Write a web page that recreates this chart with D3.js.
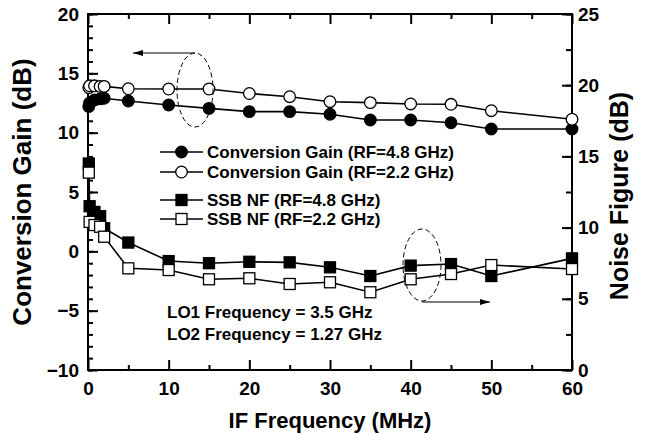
<!DOCTYPE html>
<html>
<head>
<meta charset="utf-8">
<script src="https://cdn.jsdelivr.net/npm/d3@7"></script>
<style>
  body { margin: 0; background: #fff; }
  svg { display: block; font-family: "Liberation Sans", Arial, sans-serif; font-weight: bold; }
</style>
</head>
<body>
<div id="chart"></div>
<script>
// data
var ifFreq = [0.1, 0.2, 0.8, 1.5, 2, 5, 10, 15, 20, 25, 30, 35, 40, 45, 50, 60];

var gain48 = [12.2, 12.5, 12.75, 12.85, 12.9, 12.67, 12.33, 12.05, 11.77, 11.77, 11.55, 11.07, 11.07, 10.84, 10.31, 10.31];
var gain22 = [13.8, 13.95, 13.95, 13.9, 13.9, 13.7, 13.68, 13.68, 13.3, 13.03, 12.61, 12.53, 12.42, 12.39, 11.85, 11.13];
var nf48 = [14.5, 11.5, 11.1, 10.8, 9.95, 8.95, 7.65, 7.5, 7.6, 7.56, 7.21, 6.6, 7.33, 7.44, 6.6, 7.84];
var nf22 = [13.86, 10.4, 10.18, 10.06, 9.36, 7.14, 7.02, 6.37, 6.44, 6.04, 6.16, 5.46, 6.37, 6.74, 7.37, 7.09];

var xTicks = [0, 10, 20, 30, 40, 50, 60];
var gainTicks = [-10, -5, 0, 5, 10, 15, 20];
var nfTicks = [0, 5, 10, 15, 20, 25];

var legendLabels = ["Conversion Gain (RF=4.8 GHz)", "Conversion Gain (RF=2.2 GHz)",
    "SSB NF (RF=4.8 GHz)", "SSB NF (RF=2.2 GHz)"];
var noteLines = ["LO1 Frequency = 3.5 GHz", "LO2 Frequency = 1.27 GHz"];

// layout
var width = 648,
    height = 434,
    margin = { left: 88, right: 76, top: 14, bottom: 64 },
    plotW = width - margin.left - margin.right,
    plotH = height - margin.top - margin.bottom;

var svg = d3.select("#chart").append("svg")
    .attr("width", width)
    .attr("height", height);

var g = svg.append("g")
    .attr("transform", "translate(" + margin.left + "," + margin.top + ")");

var x = d3.scaleLinear().domain([0, 60]).range([0, plotW]);
var yL = d3.scaleLinear().domain([-10, 20]).range([plotH, 0]);
var yR = d3.scaleLinear().domain([0, 25]).range([plotH, 0]);

// frame
g.append("rect")
    .attr("width", plotW)
    .attr("height", plotH)
    .attr("fill", "none")
    .attr("stroke", "#000")
    .attr("stroke-width", 2);

// axes, ticks inward
function styleAxis(sel) {
    sel.select(".domain").remove();
    sel.selectAll(".tick line").attr("stroke", "#000").attr("stroke-width", 2);
    sel.selectAll("text").attr("fill", "#000").style("font-size", "19px").style("font-weight", "bold")
        .style("font-family", "'Liberation Sans', Arial, sans-serif");
}

// bottom
g.append("g").attr("transform", "translate(0," + plotH + ")")
    .call(d3.axisBottom(x).tickValues(d3.range(5, 60, 10)).tickSize(-5).tickFormat(""))
    .call(styleAxis);
g.append("g").attr("transform", "translate(0," + plotH + ")")
    .call(d3.axisBottom(x).tickValues(xTicks).tickSize(-10).tickPadding(12).tickFormat(d3.format("d")))
    .call(styleAxis);
// top
g.append("g")
    .call(d3.axisTop(x).tickValues(d3.range(5, 60, 10)).tickSize(-5).tickFormat(""))
    .call(styleAxis);
g.append("g")
    .call(d3.axisTop(x).tickValues(xTicks).tickSize(-10).tickFormat(""))
    .call(styleAxis);
// left
g.append("g")
    .call(d3.axisLeft(yL).tickValues(d3.range(-10, 21, 1)).tickSize(-5).tickFormat(""))
    .call(styleAxis);
g.append("g")
    .call(d3.axisLeft(yL).tickValues(gainTicks).tickSize(-10).tickPadding(9).tickFormat(d3.format("d")))
    .call(styleAxis);
// right
g.append("g").attr("transform", "translate(" + plotW + ",0)")
    .call(d3.axisRight(yR).tickValues(d3.range(0, 25.1, 2.5)).tickSize(-6).tickFormat(""))
    .call(styleAxis);
g.append("g").attr("transform", "translate(" + plotW + ",0)")
    .call(d3.axisRight(yR).tickValues(nfTicks).tickSize(-10).tickPadding(6).tickFormat(d3.format("d")))
    .call(styleAxis);

// axis titles
svg.append("text")
    .attr("x", margin.left + plotW / 2)
    .attr("y", 428)
    .attr("text-anchor", "middle")
    .style("font-size", "22px")
    .text("IF Frequency (MHz)");

svg.append("text")
    .attr("transform", "translate(31," + (margin.top + plotH / 2) + ") rotate(-90)")
    .attr("text-anchor", "middle")
    .style("font-size", "26px")
    .text("Conversion Gain (dB)");

svg.append("text")
    .attr("transform", "translate(628," + (margin.top + plotH / 2 + 4) + ") rotate(-90)")
    .attr("text-anchor", "middle")
    .style("font-size", "25px")
    .text("Noise Figure (dB)");

// series
var series = [
    { vals: gain48, y: yL, shape: "circle", fill: "#000" },
    { vals: gain22, y: yL, shape: "circle", fill: "#fff" },
    { vals: nf48, y: yR, shape: "square", fill: "#000" },
    { vals: nf22, y: yR, shape: "square", fill: "#fff" }
];

function drawMarker(sel, shape, fill) {
    if (shape == "circle") {
        sel.append("circle").attr("r", 5.8);
    } else {
        sel.append("rect").attr("x", -5.5).attr("y", -5.5).attr("width", 11).attr("height", 11);
    }
    sel.selectAll("circle, rect")
        .attr("fill", fill)
        .attr("stroke", "#000")
        .attr("stroke-width", 1.3);
}

series.forEach(function (s) {
    var line = d3.line()
        .x(function (d, i) { return x(ifFreq[i]); })
        .y(function (d) { return s.y(d); });

    g.append("path")
        .datum(s.vals)
        .attr("d", line)
        .attr("fill", "none")
        .attr("stroke", "#000")
        .attr("stroke-width", 1.6);

    g.selectAll(null)
        .data(s.vals)
        .enter()
        .append("g")
        .attr("transform", function (d, i) { return "translate(" + x(ifFreq[i]) + "," + s.y(d) + ")"; })
        .each(function () { drawMarker(d3.select(this), s.shape, s.fill); });
});

// legend
var legendY = [152, 172, 200, 219];
var legend = svg.append("g");
legendLabels.forEach(function (lab, i) {
    var row = legend.append("g").attr("transform", "translate(160," + legendY[i] + ")");
    row.append("line").attr("x1", 0).attr("x2", 43)
        .attr("stroke", "#000").attr("stroke-width", 1.6);
    var m = row.append("g").attr("transform", "translate(21.5,0)");
    drawMarker(m, series[i].shape, series[i].fill);
    row.append("text")
        .attr("x", 47)
        .attr("dy", "0.36em")
        .style("font-size", "17px")
        .text(lab);
});

// operating note
noteLines.forEach(function (t, i) {
    svg.append("text")
        .attr("x", 167)
        .attr("y", 318 + i * 22)
        .style("font-size", "17px")
        .text(t);
});

// dashed ellipses + arrows
var defs = svg.append("defs");
defs.append("marker")
    .attr("id", "head")
    .attr("viewBox", "0 0 10 6")
    .attr("refX", 10)
    .attr("refY", 3)
    .attr("markerWidth", 10)
    .attr("markerHeight", 6)
    .attr("markerUnits", "userSpaceOnUse")
    .attr("orient", "auto")
    .append("path")
    .attr("d", "M0,0L10,3L0,6Z")
    .attr("fill", "#000");

svg.append("ellipse")
    .attr("cx", 195).attr("cy", 90).attr("rx", 18).attr("ry", 37)
    .attr("fill", "none").attr("stroke", "#000").attr("stroke-width", 1)
    .attr("stroke-dasharray", "5,3");
svg.append("line")
    .attr("x1", 195).attr("y1", 53).attr("x2", 133).attr("y2", 53)
    .attr("stroke", "#000").attr("stroke-width", 1.2)
    .attr("marker-end", "url(#head)");

svg.append("ellipse")
    .attr("cx", 422).attr("cy", 265).attr("rx", 19).attr("ry", 36)
    .attr("fill", "none").attr("stroke", "#000").attr("stroke-width", 1)
    .attr("stroke-dasharray", "5,3");
svg.append("line")
    .attr("x1", 422).attr("y1", 302).attr("x2", 490).attr("y2", 302)
    .attr("stroke", "#000").attr("stroke-width", 1.2)
    .attr("marker-end", "url(#head)");
</script>
</body>
</html>
